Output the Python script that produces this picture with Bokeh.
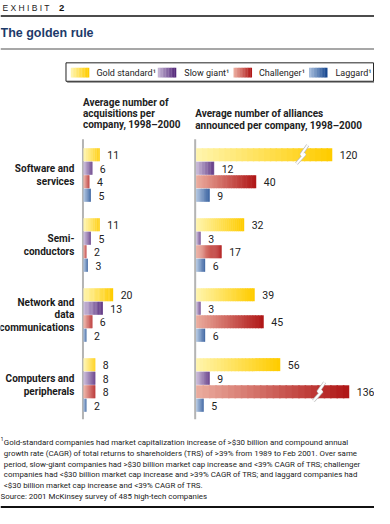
from bokeh.plotting import figure
from bokeh.models import Range1d
from bokeh.embed import file_html
from bokeh.resources import INLINE
from bokeh.core.properties import value

# ---------------- data ----------------
categories = [["Software and", "services"], ["Semi-", "conductors"],
              ["Network and", "data", "communications"], ["Computers and", "peripherals"]]
series = ["Gold standard¹", "Slow giant¹", "Challenger¹", "Laggard¹"]
acquisitions = [[11, 6, 4, 5], [11, 5, 2, 3], [20, 13, 6, 2], [8, 8, 8, 2]]
alliances = [[120, 12, 40, 9], [32, 3, 17, 6], [39, 3, 45, 6], [56, 9, 136, 5]]
light_colors = [(255, 244, 170), (196, 180, 212), (234, 170, 156), (164, 188, 220)]
dark_colors = [(255, 204, 0), (84, 40, 122), (176, 24, 24), (24, 72, 144)]
left_title = ["Average number of", "acquisitions per", "company, 1998\u20132000"]
right_title = ["Average number of alliances", "announced per company, 1998\u20132000"]
footnote = [
    "Gold-standard companies had market capitalization increase of >$30 billion and compound annual",
    "growth rate (CAGR) of total returns to shareholders (TRS) of >39% from 1989 to Feb 2001. Over same",
    "period, slow-giant companies had >$30 billion market cap increase and <39% CAGR of TRS; challenger",
    "companies had <$30 billion market cap increase and >39% CAGR of TRS; and laggard companies had",
    "<$30 billion market cap increase and <39% CAGR of TRS.",
]
source = "Source: 2001 McKinsey survey of 485 high-tech companies"
BREAK_FROM = 100  # values above this are drawn on a broken (compressed) scale

NARROW = "Roboto, sans-serif"
SANS = "Liberation Sans, Arial, sans-serif"

W, H = 374, 508
p = figure(width=W, height=H, output_backend="svg", toolbar_location=None,
           x_range=Range1d(0, 390), y_range=Range1d(524, 0), min_border=0)
p.axis.visible = False
p.grid.visible = False
p.outline_line_color = None
p.background_fill_color = "white"

# panel scales: zero position (ref px) and px per unit
L0, LS = 86.5, 1.55
R0, RS = 204.0, 1.567
p.extra_x_ranges = {
    "acq": Range1d(-L0 / LS, (390 - L0) / LS),
    "all": Range1d(-R0 / RS, (390 - R0) / RS),
}


def mix(c1, c2, t):
    return "#%02x%02x%02x" % tuple(int(round(a + (b - a) * t)) for a, b in zip(c1, c2))


def display_len(v):
    return v if v < BREAK_FROM else 20 + (v - 20) * 0.706


# ---------------- header ----------------
p.text(x=[2], y=[8], text=["E X H I B I T"], text_font=value(SANS), text_font_size="8.5px",
       text_baseline="middle", text_color="#222")
p.text(x=[61], y=[8], text=["2"], text_font=value(SANS), text_font_size="9.5px",
       text_font_style="bold", text_baseline="middle", text_color="#111")
p.segment(x0=[0], y0=[16], x1=[390], y1=[16], line_color="#111", line_width=1.6)
p.text(x=[0], y=[34], text=["The golden rule"], text_font=value(SANS), text_font_size="12.5px",
       text_font_style="bold", text_baseline="middle", text_color="#1d3a6a")
p.segment(x0=[0], y0=[50], x1=[390], y1=[50], line_color="#8a8a8a", line_width=1.6)

# ---------------- legend ----------------
p.quad(left=[69.5], right=[390], top=[65.5], bottom=[85], fill_color="#a0a0a0", line_color=None)
p.quad(left=[68.3], right=[389], top=[64.3], bottom=[83.3], fill_color="white",
       line_color="#222", line_width=1)
sw_left = [73.3, 164, 243, 321.7]
lab_x = [100, 191.7, 269.5, 349.3]
NS = 12
for i in range(4):
    for k in range(NS):
        x0 = sw_left[i] + 19.0 * k / NS
        p.quad(left=[x0], right=[x0 + 19.0 / NS + 0.3], top=[69.3], bottom=[79.3],
               fill_color=mix(light_colors[i], dark_colors[i], k / (NS - 1)), line_color=None)
    p.text(x=[lab_x[i]], y=[74.5], text=[series[i]], text_font=value(NARROW),
           text_font_size="9px", text_baseline="middle", text_color="#222")

# ---------------- panel titles ----------------
for j, t in enumerate(left_title):
    p.text(x=[86], y=[105 + 11.7 * j], text=[t], text_font=value(NARROW), text_font_size="10px",
           text_font_style="bold", text_baseline="middle", text_color="#222")
for j, t in enumerate(right_title):
    p.text(x=[203], y=[117 + 11.7 * j], text=[t], text_font=value(NARROW), text_font_size="10px",
           text_font_style="bold", text_baseline="middle", text_color="#222")

# axis lines
p.segment(x0=[86, 203], y0=[143, 143], x1=[86, 203], y1=[432, 432], line_color="#b4b4b4", line_width=2)

# ---------------- bars ----------------
G0, GP, BP, BH = 159, 72.2, 14.0, 13.4
NG = 24
for g in range(4):
    for s in range(4):
        yc = G0 + g * GP + s * BP
        for name, vals in (("acq", acquisitions), ("all", alliances)):
            v = vals[g][s]
            d = display_len(v)
            for k in range(NG):
                a = d * k / NG
                b = d * (k + 1) / NG + d * 0.01
                p.hbar(y=[yc], left=[a], right=[min(b, d)], height=BH, x_range_name=name,
                       fill_color=mix(light_colors[s], dark_colors[s], k / (NG - 1)), line_color=None)
            p.text(x=[d], y=[yc + 0.5], text=[str(v)], x_range_name=name, x_offset=7.5,
                   text_font=value(NARROW), text_font_size="10.5px", text_baseline="middle",
                   text_color="#222")
            if v >= BREAK_FROM:
                bx = d - 20
                u = 1 / (RS)
                xs = [bx + 5.7 * u, bx - 1.3 * u, bx + 3.0 * u, bx - 6.0 * u]
                ys = [yc - 9.7, yc + 0.3, yc - 0.7, yc + 9.3]
                p.line(x=xs, y=ys, x_range_name=name, line_color="#bdbdbd", line_width=3.4)
                p.line(x=xs, y=ys, x_range_name=name, line_color="white", line_width=2.0)
    lines = categories[g]
    gc = G0 + g * GP + 1.5 * BP
    n = len(lines)
    for j, t in enumerate(lines):
        p.text(x=[77], y=[gc + (j - (n - 1) / 2) * 12.6], text=[t], text_font=value(NARROW),
               text_font_size="10px", text_font_style="bold", text_align="right",
               text_baseline="middle", text_color="#1a1a1a")

# ---------------- footnote ----------------
p.text(x=[0], y=[452.5], text=["1"], text_font=value(NARROW), text_font_size="5.5px",
       text_baseline="middle", text_color="#222")
for j, t in enumerate(footnote):
    p.text(x=[3.5], y=[455.7 + 11.2 * j], text=[t], text_font=value(NARROW), text_font_size="7.9px",
           text_baseline="middle", text_color="#222")
p.text(x=[0], y=[511.5], text=[source], text_font=value(NARROW), text_font_size="7.9px",
       text_baseline="middle", text_color="#222")
p.segment(x0=[0], y0=[522.5], x1=[390], y1=[522.5], line_color="#111", line_width=2)

open("out.html", "w").write(file_html(p, INLINE))
